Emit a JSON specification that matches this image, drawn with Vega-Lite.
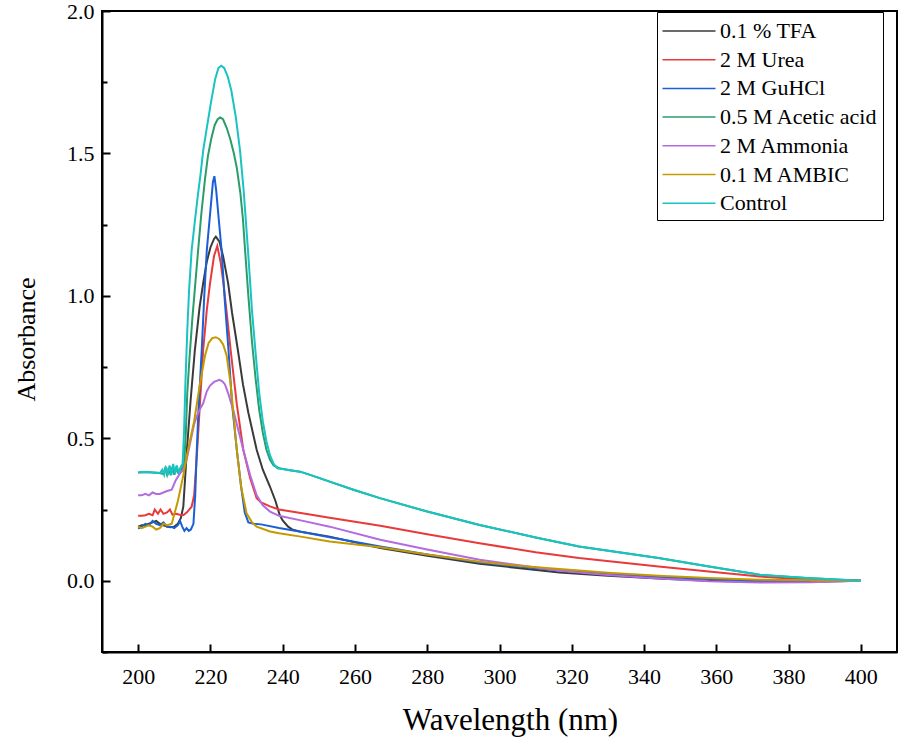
{
  "$schema": "https://vega.github.io/schema/vega-lite/v6.json",
  "autosize": {"type": "none"},
  "padding": {"left": 102, "top": 11, "right": 3, "bottom": 96},
  "width": 795,
  "height": 641,
  "background": "white",
  "config": {
    "font": "Times New Roman, Liberation Serif, DejaVu Serif, serif",
    "view": {"stroke": "black", "strokeWidth": 2},
    "axis": {"domainColor": "black", "domainWidth": 2, "tickColor": "black", "tickWidth": 2, "labelColor": "black", "titleColor": "black", "grid": false, "labelFont": "Times New Roman, Liberation Serif, DejaVu Serif, serif", "titleFont": "Times New Roman, Liberation Serif, DejaVu Serif, serif", "titleFontWeight": "normal"},
    "legend": {"labelFont": "Times New Roman, Liberation Serif, DejaVu Serif, serif"}
  },
  "data": {"values": [
    {"s":"0.1 % TFA","w":200,"a":0.19},{"s":"0.1 % TFA","w":201,"a":0.195},{"s":"0.1 % TFA","w":202,"a":0.195},{"s":"0.1 % TFA","w":203,"a":0.2},{"s":"0.1 % TFA","w":204,"a":0.205},{"s":"0.1 % TFA","w":205,"a":0.21},{"s":"0.1 % TFA","w":206,"a":0.2},{"s":"0.1 % TFA","w":207,"a":0.195},{"s":"0.1 % TFA","w":208,"a":0.19},{"s":"0.1 % TFA","w":209,"a":0.188},{"s":"0.1 % TFA","w":210,"a":0.19},{"s":"0.1 % TFA","w":211,"a":0.2},{"s":"0.1 % TFA","w":211.8,"a":0.22},{"s":"0.1 % TFA","w":212.5,"a":0.26},{"s":"0.1 % TFA","w":213,"a":0.36},{"s":"0.1 % TFA","w":213.5,"a":0.46},{"s":"0.1 % TFA","w":214.5,"a":0.63},{"s":"0.1 % TFA","w":215.7,"a":0.81},{"s":"0.1 % TFA","w":217,"a":0.96},{"s":"0.1 % TFA","w":218,"a":1.045},{"s":"0.1 % TFA","w":219,"a":1.12},{"s":"0.1 % TFA","w":220,"a":1.17},{"s":"0.1 % TFA","w":221,"a":1.2},{"s":"0.1 % TFA","w":221.5,"a":1.208},{"s":"0.1 % TFA","w":222.5,"a":1.19},{"s":"0.1 % TFA","w":223.5,"a":1.14},{"s":"0.1 % TFA","w":224.9,"a":1.045},{"s":"0.1 % TFA","w":226,"a":0.94},{"s":"0.1 % TFA","w":227.6,"a":0.81},{"s":"0.1 % TFA","w":229,"a":0.69},{"s":"0.1 % TFA","w":230.5,"a":0.59},{"s":"0.1 % TFA","w":232.8,"a":0.46},{"s":"0.1 % TFA","w":234.5,"a":0.39},{"s":"0.1 % TFA","w":236.5,"a":0.33},{"s":"0.1 % TFA","w":238,"a":0.28},{"s":"0.1 % TFA","w":239.2,"a":0.23},{"s":"0.1 % TFA","w":240,"a":0.212},{"s":"0.1 % TFA","w":241.5,"a":0.19},{"s":"0.1 % TFA","w":242.8,"a":0.179},{"s":"0.1 % TFA","w":245,"a":0.172},{"s":"0.1 % TFA","w":253,"a":0.155},{"s":"0.1 % TFA","w":267,"a":0.115},{"s":"0.1 % TFA","w":280,"a":0.088},{"s":"0.1 % TFA","w":294.5,"a":0.06},{"s":"0.1 % TFA","w":305,"a":0.045},{"s":"0.1 % TFA","w":316.6,"a":0.029},{"s":"0.1 % TFA","w":330,"a":0.018},{"s":"0.1 % TFA","w":344,"a":0.008},{"s":"0.1 % TFA","w":358,"a":0.0},{"s":"0.1 % TFA","w":372,"a":-0.004},{"s":"0.1 % TFA","w":386,"a":-0.003},{"s":"0.1 % TFA","w":400,"a":0.0},

    {"s":"2 M Urea","w":200,"a":0.228},{"s":"2 M Urea","w":201,"a":0.228},{"s":"2 M Urea","w":202,"a":0.23},{"s":"2 M Urea","w":203,"a":0.235},{"s":"2 M Urea","w":204,"a":0.23},{"s":"2 M Urea","w":204.6,"a":0.25},{"s":"2 M Urea","w":205.5,"a":0.235},{"s":"2 M Urea","w":206.2,"a":0.25},{"s":"2 M Urea","w":207,"a":0.235},{"s":"2 M Urea","w":208,"a":0.24},{"s":"2 M Urea","w":208.8,"a":0.25},{"s":"2 M Urea","w":209.5,"a":0.232},{"s":"2 M Urea","w":210.5,"a":0.235},{"s":"2 M Urea","w":211.5,"a":0.232},{"s":"2 M Urea","w":212.5,"a":0.23},{"s":"2 M Urea","w":213.5,"a":0.24},{"s":"2 M Urea","w":214.8,"a":0.26},{"s":"2 M Urea","w":215.5,"a":0.3},{"s":"2 M Urea","w":216.3,"a":0.45},{"s":"2 M Urea","w":217,"a":0.6},{"s":"2 M Urea","w":218,"a":0.81},{"s":"2 M Urea","w":219,"a":0.95},{"s":"2 M Urea","w":219.9,"a":1.045},{"s":"2 M Urea","w":221,"a":1.14},{"s":"2 M Urea","w":221.9,"a":1.175},{"s":"2 M Urea","w":222.8,"a":1.12},{"s":"2 M Urea","w":223.6,"a":1.045},{"s":"2 M Urea","w":224.6,"a":0.93},{"s":"2 M Urea","w":225.6,"a":0.81},{"s":"2 M Urea","w":227.3,"a":0.62},{"s":"2 M Urea","w":229.1,"a":0.46},{"s":"2 M Urea","w":231,"a":0.36},{"s":"2 M Urea","w":232.8,"a":0.29},{"s":"2 M Urea","w":234,"a":0.275},{"s":"2 M Urea","w":236.5,"a":0.261},{"s":"2 M Urea","w":239,"a":0.25},{"s":"2 M Urea","w":245,"a":0.238},{"s":"2 M Urea","w":253,"a":0.221},{"s":"2 M Urea","w":267,"a":0.193},{"s":"2 M Urea","w":280,"a":0.163},{"s":"2 M Urea","w":294.5,"a":0.132},{"s":"2 M Urea","w":310,"a":0.1},{"s":"2 M Urea","w":322,"a":0.08},{"s":"2 M Urea","w":344,"a":0.05},{"s":"2 M Urea","w":360,"a":0.03},{"s":"2 M Urea","w":372,"a":0.015},{"s":"2 M Urea","w":386,"a":0.004},{"s":"2 M Urea","w":400,"a":0.0},

    {"s":"2 M GuHCl","w":200,"a":0.183},{"s":"2 M GuHCl","w":201,"a":0.19},{"s":"2 M GuHCl","w":202,"a":0.2},{"s":"2 M GuHCl","w":203,"a":0.195},{"s":"2 M GuHCl","w":204,"a":0.21},{"s":"2 M GuHCl","w":205,"a":0.2},{"s":"2 M GuHCl","w":206,"a":0.195},{"s":"2 M GuHCl","w":207,"a":0.205},{"s":"2 M GuHCl","w":208,"a":0.19},{"s":"2 M GuHCl","w":209,"a":0.19},{"s":"2 M GuHCl","w":210,"a":0.185},{"s":"2 M GuHCl","w":211,"a":0.195},{"s":"2 M GuHCl","w":211.6,"a":0.21},{"s":"2 M GuHCl","w":212.2,"a":0.19},{"s":"2 M GuHCl","w":212.8,"a":0.175},{"s":"2 M GuHCl","w":213.4,"a":0.185},{"s":"2 M GuHCl","w":214,"a":0.175},{"s":"2 M GuHCl","w":214.6,"a":0.18},{"s":"2 M GuHCl","w":215.3,"a":0.2},{"s":"2 M GuHCl","w":215.8,"a":0.3},{"s":"2 M GuHCl","w":216.2,"a":0.45},{"s":"2 M GuHCl","w":216.7,"a":0.6},{"s":"2 M GuHCl","w":217.6,"a":0.81},{"s":"2 M GuHCl","w":218.3,"a":1.0},{"s":"2 M GuHCl","w":219,"a":1.16},{"s":"2 M GuHCl","w":220,"a":1.3},{"s":"2 M GuHCl","w":220.7,"a":1.4},{"s":"2 M GuHCl","w":221.1,"a":1.42},{"s":"2 M GuHCl","w":221.6,"a":1.37},{"s":"2 M GuHCl","w":222.3,"a":1.27},{"s":"2 M GuHCl","w":223.1,"a":1.16},{"s":"2 M GuHCl","w":224,"a":0.98},{"s":"2 M GuHCl","w":225,"a":0.81},{"s":"2 M GuHCl","w":226,"a":0.62},{"s":"2 M GuHCl","w":227.3,"a":0.46},{"s":"2 M GuHCl","w":228.5,"a":0.33},{"s":"2 M GuHCl","w":229.5,"a":0.24},{"s":"2 M GuHCl","w":230.5,"a":0.205},{"s":"2 M GuHCl","w":232,"a":0.2},{"s":"2 M GuHCl","w":234,"a":0.198},{"s":"2 M GuHCl","w":239,"a":0.185},{"s":"2 M GuHCl","w":245,"a":0.172},{"s":"2 M GuHCl","w":253,"a":0.153},{"s":"2 M GuHCl","w":267,"a":0.12},{"s":"2 M GuHCl","w":280,"a":0.092},{"s":"2 M GuHCl","w":294.5,"a":0.064},{"s":"2 M GuHCl","w":305,"a":0.05},{"s":"2 M GuHCl","w":316.6,"a":0.036},{"s":"2 M GuHCl","w":330,"a":0.024},{"s":"2 M GuHCl","w":344,"a":0.014},{"s":"2 M GuHCl","w":358,"a":0.006},{"s":"2 M GuHCl","w":372,"a":0.0},{"s":"2 M GuHCl","w":386,"a":-0.002},{"s":"2 M GuHCl","w":400,"a":0.0},

    {"s":"0.5 M Acetic acid","w":200,"a":0.38},{"s":"0.5 M Acetic acid","w":202,"a":0.382},{"s":"0.5 M Acetic acid","w":204,"a":0.38},{"s":"0.5 M Acetic acid","w":206,"a":0.378},{"s":"0.5 M Acetic acid","w":207,"a":0.375},{"s":"0.5 M Acetic acid","w":207.5,"a":0.395},{"s":"0.5 M Acetic acid","w":208,"a":0.372},{"s":"0.5 M Acetic acid","w":208.5,"a":0.398},{"s":"0.5 M Acetic acid","w":209,"a":0.37},{"s":"0.5 M Acetic acid","w":209.5,"a":0.4},{"s":"0.5 M Acetic acid","w":210,"a":0.372},{"s":"0.5 M Acetic acid","w":210.5,"a":0.395},{"s":"0.5 M Acetic acid","w":211,"a":0.38},{"s":"0.5 M Acetic acid","w":212,"a":0.39},{"s":"0.5 M Acetic acid","w":212.7,"a":0.41},{"s":"0.5 M Acetic acid","w":213.2,"a":0.52},{"s":"0.5 M Acetic acid","w":213.6,"a":0.66},{"s":"0.5 M Acetic acid","w":214.2,"a":0.78},{"s":"0.5 M Acetic acid","w":215,"a":0.92},{"s":"0.5 M Acetic acid","w":216,"a":1.07},{"s":"0.5 M Acetic acid","w":216.6,"a":1.16},{"s":"0.5 M Acetic acid","w":217.5,"a":1.29},{"s":"0.5 M Acetic acid","w":218.5,"a":1.41},{"s":"0.5 M Acetic acid","w":219.3,"a":1.49},{"s":"0.5 M Acetic acid","w":220.2,"a":1.55},{"s":"0.5 M Acetic acid","w":221.2,"a":1.6},{"s":"0.5 M Acetic acid","w":222,"a":1.62},{"s":"0.5 M Acetic acid","w":222.7,"a":1.626},{"s":"0.5 M Acetic acid","w":223.5,"a":1.62},{"s":"0.5 M Acetic acid","w":224.5,"a":1.59},{"s":"0.5 M Acetic acid","w":225.5,"a":1.55},{"s":"0.5 M Acetic acid","w":226.5,"a":1.5},{"s":"0.5 M Acetic acid","w":227.3,"a":1.45},{"s":"0.5 M Acetic acid","w":228.3,"a":1.36},{"s":"0.5 M Acetic acid","w":229,"a":1.27},{"s":"0.5 M Acetic acid","w":229.6,"a":1.16},{"s":"0.5 M Acetic acid","w":230.5,"a":1.0},{"s":"0.5 M Acetic acid","w":231.5,"a":0.84},{"s":"0.5 M Acetic acid","w":232.5,"a":0.71},{"s":"0.5 M Acetic acid","w":233.5,"a":0.6},{"s":"0.5 M Acetic acid","w":234.5,"a":0.52},{"s":"0.5 M Acetic acid","w":235.5,"a":0.46},{"s":"0.5 M Acetic acid","w":236.5,"a":0.425},{"s":"0.5 M Acetic acid","w":237.5,"a":0.405},{"s":"0.5 M Acetic acid","w":239,"a":0.395},{"s":"0.5 M Acetic acid","w":242,"a":0.388},{"s":"0.5 M Acetic acid","w":244.8,"a":0.383},{"s":"0.5 M Acetic acid","w":248,"a":0.37},{"s":"0.5 M Acetic acid","w":253,"a":0.348},{"s":"0.5 M Acetic acid","w":260,"a":0.318},{"s":"0.5 M Acetic acid","w":266.9,"a":0.29},{"s":"0.5 M Acetic acid","w":280,"a":0.243},{"s":"0.5 M Acetic acid","w":294.5,"a":0.196},{"s":"0.5 M Acetic acid","w":310,"a":0.152},{"s":"0.5 M Acetic acid","w":322,"a":0.12},{"s":"0.5 M Acetic acid","w":333,"a":0.1},{"s":"0.5 M Acetic acid","w":344,"a":0.08},{"s":"0.5 M Acetic acid","w":358,"a":0.05},{"s":"0.5 M Acetic acid","w":372,"a":0.021},{"s":"0.5 M Acetic acid","w":385,"a":0.01},{"s":"0.5 M Acetic acid","w":400,"a":0.0},

    {"s":"2 M Ammonia","w":200,"a":0.3},{"s":"2 M Ammonia","w":201,"a":0.3},{"s":"2 M Ammonia","w":202,"a":0.305},{"s":"2 M Ammonia","w":203,"a":0.3},{"s":"2 M Ammonia","w":204,"a":0.31},{"s":"2 M Ammonia","w":205,"a":0.305},{"s":"2 M Ammonia","w":206,"a":0.305},{"s":"2 M Ammonia","w":207,"a":0.31},{"s":"2 M Ammonia","w":208,"a":0.315},{"s":"2 M Ammonia","w":209.3,"a":0.32},{"s":"2 M Ammonia","w":210.3,"a":0.35},{"s":"2 M Ammonia","w":211.5,"a":0.375},{"s":"2 M Ammonia","w":212.5,"a":0.39},{"s":"2 M Ammonia","w":213.5,"a":0.43},{"s":"2 M Ammonia","w":214.5,"a":0.49},{"s":"2 M Ammonia","w":215.5,"a":0.55},{"s":"2 M Ammonia","w":216.2,"a":0.576},{"s":"2 M Ammonia","w":217,"a":0.6},{"s":"2 M Ammonia","w":218,"a":0.623},{"s":"2 M Ammonia","w":219,"a":0.665},{"s":"2 M Ammonia","w":219.9,"a":0.685},{"s":"2 M Ammonia","w":221,"a":0.698},{"s":"2 M Ammonia","w":222.5,"a":0.705},{"s":"2 M Ammonia","w":223.3,"a":0.7},{"s":"2 M Ammonia","w":224,"a":0.69},{"s":"2 M Ammonia","w":225,"a":0.655},{"s":"2 M Ammonia","w":226.3,"a":0.6},{"s":"2 M Ammonia","w":227.7,"a":0.53},{"s":"2 M Ammonia","w":229.1,"a":0.46},{"s":"2 M Ammonia","w":231,"a":0.37},{"s":"2 M Ammonia","w":232.8,"a":0.3},{"s":"2 M Ammonia","w":234.5,"a":0.265},{"s":"2 M Ammonia","w":236.5,"a":0.243},{"s":"2 M Ammonia","w":239,"a":0.228},{"s":"2 M Ammonia","w":245,"a":0.212},{"s":"2 M Ammonia","w":253,"a":0.19},{"s":"2 M Ammonia","w":267,"a":0.144},{"s":"2 M Ammonia","w":280,"a":0.11},{"s":"2 M Ammonia","w":294.5,"a":0.074},{"s":"2 M Ammonia","w":305,"a":0.055},{"s":"2 M Ammonia","w":316.6,"a":0.035},{"s":"2 M Ammonia","w":330,"a":0.02},{"s":"2 M Ammonia","w":344,"a":0.008},{"s":"2 M Ammonia","w":358,"a":-0.002},{"s":"2 M Ammonia","w":372,"a":-0.006},{"s":"2 M Ammonia","w":386,"a":-0.005},{"s":"2 M Ammonia","w":400,"a":0.0},

    {"s":"0.1 M AMBIC","w":200,"a":0.19},{"s":"0.1 M AMBIC","w":201,"a":0.185},{"s":"0.1 M AMBIC","w":202,"a":0.19},{"s":"0.1 M AMBIC","w":203,"a":0.195},{"s":"0.1 M AMBIC","w":204,"a":0.19},{"s":"0.1 M AMBIC","w":205,"a":0.18},{"s":"0.1 M AMBIC","w":206,"a":0.185},{"s":"0.1 M AMBIC","w":207,"a":0.2},{"s":"0.1 M AMBIC","w":208,"a":0.195},{"s":"0.1 M AMBIC","w":209.3,"a":0.2},{"s":"0.1 M AMBIC","w":211,"a":0.28},{"s":"0.1 M AMBIC","w":212.5,"a":0.37},{"s":"0.1 M AMBIC","w":213.8,"a":0.46},{"s":"0.1 M AMBIC","w":215.5,"a":0.56},{"s":"0.1 M AMBIC","w":217.1,"a":0.69},{"s":"0.1 M AMBIC","w":218.5,"a":0.79},{"s":"0.1 M AMBIC","w":219.5,"a":0.835},{"s":"0.1 M AMBIC","w":220.5,"a":0.852},{"s":"0.1 M AMBIC","w":221.5,"a":0.855},{"s":"0.1 M AMBIC","w":222.5,"a":0.848},{"s":"0.1 M AMBIC","w":223.5,"a":0.83},{"s":"0.1 M AMBIC","w":224.5,"a":0.79},{"s":"0.1 M AMBIC","w":225.6,"a":0.69},{"s":"0.1 M AMBIC","w":226.5,"a":0.57},{"s":"0.1 M AMBIC","w":227.3,"a":0.46},{"s":"0.1 M AMBIC","w":228.5,"a":0.33},{"s":"0.1 M AMBIC","w":230,"a":0.237},{"s":"0.1 M AMBIC","w":231.5,"a":0.205},{"s":"0.1 M AMBIC","w":232.8,"a":0.19},{"s":"0.1 M AMBIC","w":236.5,"a":0.173},{"s":"0.1 M AMBIC","w":239,"a":0.167},{"s":"0.1 M AMBIC","w":245,"a":0.155},{"s":"0.1 M AMBIC","w":253,"a":0.138},{"s":"0.1 M AMBIC","w":267,"a":0.118},{"s":"0.1 M AMBIC","w":280,"a":0.092},{"s":"0.1 M AMBIC","w":294.5,"a":0.067},{"s":"0.1 M AMBIC","w":305,"a":0.053},{"s":"0.1 M AMBIC","w":316.6,"a":0.041},{"s":"0.1 M AMBIC","w":330,"a":0.028},{"s":"0.1 M AMBIC","w":344,"a":0.018},{"s":"0.1 M AMBIC","w":358,"a":0.01},{"s":"0.1 M AMBIC","w":372,"a":0.004},{"s":"0.1 M AMBIC","w":386,"a":0.002},{"s":"0.1 M AMBIC","w":400,"a":0.0},

    {"s":"Control","w":200,"a":0.38},{"s":"Control","w":202,"a":0.382},{"s":"Control","w":204,"a":0.38},{"s":"Control","w":206,"a":0.378},{"s":"Control","w":206.7,"a":0.39},{"s":"Control","w":207.2,"a":0.372},{"s":"Control","w":207.7,"a":0.4},{"s":"Control","w":208.2,"a":0.37},{"s":"Control","w":208.7,"a":0.405},{"s":"Control","w":209.2,"a":0.372},{"s":"Control","w":209.7,"a":0.41},{"s":"Control","w":210.2,"a":0.375},{"s":"Control","w":210.7,"a":0.405},{"s":"Control","w":211.2,"a":0.38},{"s":"Control","w":211.8,"a":0.4},{"s":"Control","w":212.3,"a":0.41},{"s":"Control","w":212.7,"a":0.52},{"s":"Control","w":213.1,"a":0.7},{"s":"Control","w":213.6,"a":0.88},{"s":"Control","w":214.1,"a":1.02},{"s":"Control","w":214.8,"a":1.16},{"s":"Control","w":215.5,"a":1.24},{"s":"Control","w":216.5,"a":1.35},{"s":"Control","w":217.3,"a":1.43},{"s":"Control","w":218,"a":1.51},{"s":"Control","w":219,"a":1.59},{"s":"Control","w":220.3,"a":1.69},{"s":"Control","w":221.3,"a":1.76},{"s":"Control","w":222.2,"a":1.8},{"s":"Control","w":223,"a":1.808},{"s":"Control","w":223.8,"a":1.8},{"s":"Control","w":224.8,"a":1.77},{"s":"Control","w":225.8,"a":1.72},{"s":"Control","w":227,"a":1.63},{"s":"Control","w":228.2,"a":1.51},{"s":"Control","w":229.2,"a":1.37},{"s":"Control","w":230.4,"a":1.16},{"s":"Control","w":231.5,"a":0.95},{"s":"Control","w":232.5,"a":0.8},{"s":"Control","w":233.5,"a":0.66},{"s":"Control","w":234.5,"a":0.56},{"s":"Control","w":235.5,"a":0.49},{"s":"Control","w":236.5,"a":0.44},{"s":"Control","w":237.5,"a":0.41},{"s":"Control","w":238.5,"a":0.395},{"s":"Control","w":240,"a":0.392},{"s":"Control","w":242,"a":0.388},{"s":"Control","w":244.8,"a":0.383},{"s":"Control","w":248,"a":0.37},{"s":"Control","w":253,"a":0.348},{"s":"Control","w":260,"a":0.318},{"s":"Control","w":266.9,"a":0.29},{"s":"Control","w":280,"a":0.243},{"s":"Control","w":294.5,"a":0.196},{"s":"Control","w":310,"a":0.152},{"s":"Control","w":322,"a":0.12},{"s":"Control","w":333,"a":0.1},{"s":"Control","w":344,"a":0.08},{"s":"Control","w":358,"a":0.05},{"s":"Control","w":372,"a":0.021},{"s":"Control","w":385,"a":0.01},{"s":"Control","w":400,"a":0.0}
  ]},
  "layer": [
    {
      "mark": {"type": "line", "strokeWidth": 2, "clip": true},
      "encoding": {
        "x": {"field": "w", "type": "quantitative", "scale": {"domain": [190, 410], "nice": false, "zero": false},
          "axis": {"title": "Wavelength (nm)", "values": [200,220,240,260,280,300,320,340,360,380,400], "tickSize": -8, "labelPadding": 22, "labelFontSize": 22, "titleFontSize": 31, "titlePadding": 18, "titleX": 408}},
        "y": {"field": "a", "type": "quantitative", "scale": {"domain": [-0.25, 2.0], "nice": false, "zero": false},
          "axis": {"title": "Absorbance", "values": [0, 0.5, 1.0, 1.5, 2.0], "format": ".1f", "tickSize": -8, "labelPadding": 16, "labelFontSize": 22, "titleFontSize": 26, "titlePadding": 27, "titleY": 328}},
        "color": {"field": "s", "type": "nominal",
          "scale": {"domain": ["0.1 % TFA","2 M Urea","2 M GuHCl","0.5 M Acetic acid","2 M Ammonia","0.1 M AMBIC","Control"],
                    "range": ["#3a3a3a","#e83a3a","#1b5fd6","#2a9d6a","#b26be0","#c49a00","#19c3c3"]},
          "legend": {"title": null, "orient": "none", "legendX": 555, "legendY": 1, "symbolType": "M-2,0H2", "symbolSize": 702, "symbolStrokeWidth": 1.5, "symbolOffset": 13, "labelFontSize": 22, "labelColor": "black", "rowPadding": 3.7, "padding": 5, "strokeColor": "black", "fillColor": "white", "labelOffset": 17}},
        "order": {"field": "s"}
      }
    },
    {
      "mark": {"type": "point", "opacity": 0},
      "encoding": {
        "x": {"field": "w", "type": "quantitative"},
        "y": {"field": "a", "type": "quantitative",
          "axis": {"orient": "left", "title": null, "values": [-0.25, 0.25, 0.75, 1.25, 1.75], "labels": false, "domain": false, "tickSize": -5}}
      }
    }
  ],
  "resolve": {"axis": {"y": "independent"}}
}
